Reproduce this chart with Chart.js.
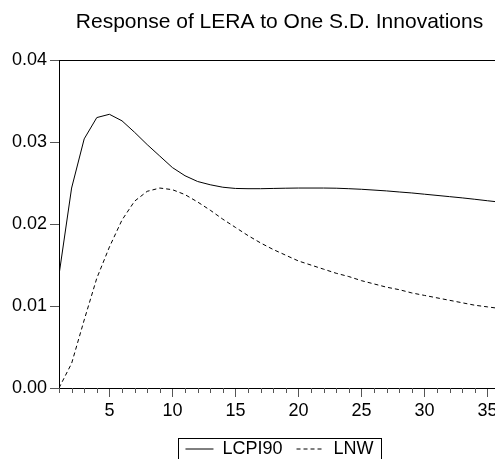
<!DOCTYPE html>
<html>
<head>
<meta charset="utf-8">
<script src="https://cdn.jsdelivr.net/npm/chart.js@4.4.1/dist/chart.umd.min.js"></script>
<style>
  html, body { margin: 0; padding: 0; background: #fff; overflow: hidden; }
  #wrap { width: 495px; height: 459px; overflow: hidden; }
  canvas { display: block; }
</style>
</head>
<body>
<div id="wrap"><canvas id="irf" width="500" height="468"></canvas></div>
<script>
// Impulse responses of LERA, periods 1..36
const periods = [1,2,3,4,5,6,7,8,9,10,11,12,13,14,15,16,17,18,19,20,21,22,23,24,25,26,27,28,29,30,31,32,33,34,35,36];
const lcpi90 = [0.0138,0.0244,0.0304,0.0330,0.0334,0.0326,0.0312,0.0297,0.0283,0.0269,0.0259,0.0252,
                0.0248,0.0245,0.02435,0.02432,0.02432,0.02435,0.02438,0.0244,0.0244,0.0244,0.02438,0.02432,
                0.02425,0.02415,0.02405,0.02392,0.0238,0.02365,0.0235,0.02335,0.0232,0.02303,0.02285,0.02268];
const lnw = [0.0000,0.0030,0.0083,0.0134,0.0172,0.0205,0.0228,0.0240,0.0244,0.0242,0.0236,0.0227,
             0.0217,0.0206,0.0196,0.0186,0.0177,0.0169,0.0162,0.0155,0.0150,0.0145,0.0140,0.0136,
             0.0131,0.0127,0.0123,0.0120,0.0116,0.0113,0.0110,0.0107,0.0104,0.0101,0.0099,0.0097];
const yTicks = [0.00, 0.01, 0.02, 0.03, 0.04];
const xLabelEvery = 5;

const FONT = "'Liberation Sans', Arial, sans-serif";

const toPoints = arr => arr.map((v, i) => ({ x: periods[i], y: v }));

// Frame top line, minor x ticks and the legend border
const extras = {
  id: 'extras',
  afterDraw(chart) {
    const { ctx, chartArea: a, scales: { x } } = chart;
    ctx.save();
    ctx.strokeStyle = '#000';
    ctx.lineWidth = 1;
    ctx.beginPath();
    ctx.moveTo(a.left, Math.round(a.top) + 0.5);
    ctx.lineTo(a.right, Math.round(a.top) + 0.5);
    ctx.stroke();

    ctx.strokeStyle = '#555';
    ctx.beginPath();
    periods.forEach(p => {
      if (p % xLabelEvery === 0) return;
      const px = Math.round(x.getPixelForValue(p)) + 0.5;
      ctx.moveTo(px, a.bottom);
      ctx.lineTo(px, a.bottom + 5);
    });
    ctx.stroke();

    const lg = chart.legend;
    if (lg && lg.legendHitBoxes.length) {
      const hb = lg.legendHitBoxes;
      const first = hb[0], last = hb[hb.length - 1];
      const cy = first.top + first.height / 2;
      const l = Math.round(first.left - 7) + 0.5;
      const r = Math.round(last.left + last.width + 7) + 0.5;
      ctx.strokeStyle = '#000';
      ctx.strokeRect(l, Math.round(cy - 11) + 0.5, r - l, 22);
    }
    ctx.restore();
  }
};

new Chart(document.getElementById('irf'), {
  type: 'line',
  data: {
    datasets: [
      { label: 'LCPI90', data: toPoints(lcpi90), borderColor: '#000', borderWidth: 1,
        pointRadius: 0, tension: 0, fill: false },
      { label: 'LNW', data: toPoints(lnw), borderColor: '#000', borderWidth: 1,
        borderDash: [4, 3], pointRadius: 0, tension: 0, fill: false }
    ]
  },
  options: {
    responsive: false,
    animation: false,
    events: [],
    layout: { padding: 0 },
    plugins: {
      title: {
        display: true, fullSize: false,
        text: 'Response of LERA to One S.D. Innovations',
        color: '#000',
        font: { family: FONT, size: 21, weight: 'normal' },
        padding: { top: 10, bottom: 25 }
      },
      legend: {
        display: true, position: 'bottom', fullSize: false,
        labels: {
          color: '#000',
          font: { family: FONT, size: 18 },
          usePointStyle: true, pointStyle: 'line', pointStyleWidth: 28,
          boxWidth: 28, padding: 14,
          generateLabels: chart =>
            Chart.defaults.plugins.legend.labels.generateLabels(chart).map(item => {
              const ds = chart.data.datasets[item.datasetIndex];
              return Object.assign(item, { lineDash: ds.borderDash || [], lineWidth: 1,
                                           strokeStyle: '#000', pointStyle: 'line' });
            })
        }
      },
      tooltip: { enabled: false }
    },
    scales: {
      x: {
        type: 'linear', min: 1, max: 36,
        afterFit: s => { s.height = 38; s.paddingLeft = 0; s.paddingRight = 0; },
        border: { display: true, color: '#000', width: 1 },
        grid: {
          display: true, drawOnChartArea: false, tickLength: 9,
          color: ctx => (ctx.tick && ctx.tick.value % xLabelEvery === 0) ? '#555' : 'rgba(0,0,0,0)'
        },
        ticks: {
          stepSize: 1, autoSkip: false, maxRotation: 0, color: '#000', padding: 3,
          font: { family: FONT, size: 18 },
          callback: v => (v % xLabelEvery === 0 ? String(v) : '')
        }
      },
      y: {
        min: yTicks[0], max: yTicks[yTicks.length - 1],
        afterFit: s => { s.width = 59; },
        afterBuildTicks: s => { s.ticks = yTicks.map(v => ({ value: v })); },
        border: { display: true, color: '#000', width: 1 },
        grid: { display: true, drawOnChartArea: false, tickLength: 9, color: '#555' },
        ticks: {
          color: '#000', padding: 3,
          font: { family: FONT, size: 18 },
          callback: v => Number(v).toFixed(2)
        }
      }
    }
  },
  plugins: [extras]
});
</script>
</body>
</html>
